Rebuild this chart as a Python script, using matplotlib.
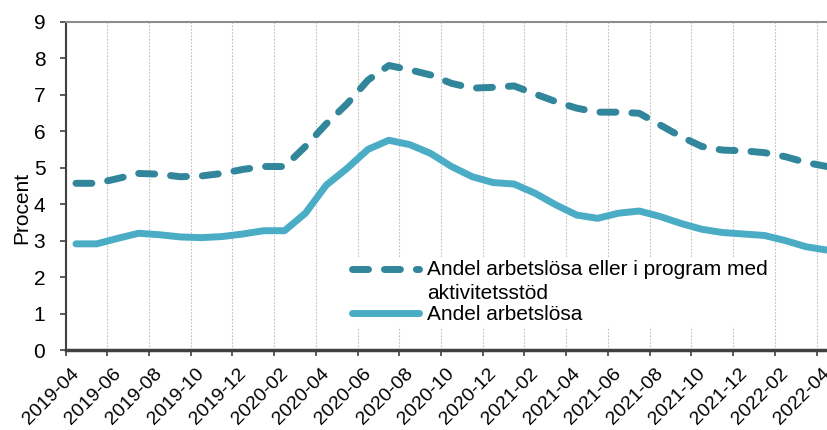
import matplotlib
matplotlib.use("Agg")
import matplotlib.pyplot as plt
import matplotlib.transforms as mtransforms
from matplotlib.legend_handler import HandlerLine2D
import numpy as np

plt.rcParams['font.family'] = ['Liberation Sans', 'DejaVu Sans']

months = ["2019-04", "2019-05", "2019-06", "2019-07", "2019-08", "2019-09", "2019-10", "2019-11",
          "2019-12", "2020-01", "2020-02", "2020-03", "2020-04", "2020-05", "2020-06", "2020-07",
          "2020-08", "2020-09", "2020-10", "2020-11", "2020-12", "2021-01", "2021-02", "2021-03",
          "2021-04", "2021-05", "2021-06", "2021-07", "2021-08", "2021-09", "2021-10", "2021-11",
          "2021-12", "2022-01", "2022-02", "2022-03", "2022-04"]

andel_program = [4.57, 4.57, 4.70, 4.84, 4.82, 4.75, 4.77, 4.84, 4.95, 5.03, 5.03, 5.58,
                 6.20, 6.75, 7.40, 7.80, 7.68, 7.54, 7.31, 7.18, 7.20, 7.24, 7.02, 6.81,
                 6.63, 6.52, 6.52, 6.49, 6.17, 5.85, 5.58, 5.48, 5.46, 5.41, 5.30, 5.14, 5.03]

andel_arbetslosa = [2.91, 2.91, 3.06, 3.20, 3.16, 3.10, 3.08, 3.11, 3.18, 3.27, 3.27, 3.75,
                    4.52, 4.98, 5.50, 5.75, 5.63, 5.39, 5.03, 4.75, 4.59, 4.55, 4.30, 3.98,
                    3.70, 3.61, 3.75, 3.81, 3.66, 3.47, 3.31, 3.22, 3.18, 3.14, 3.00, 2.83, 2.74]

tick_labels = months[::2]

label_program = "Andel arbetslösa eller i program med\naktivitetsstöd"
label_arb = "Andel arbetslösa"

W, H = 828, 430
x0, y0, y1 = 65.5, 350, 21.7
fig = plt.figure(figsize=(W/100, H/100), dpi=100)
ax = fig.add_axes([x0/W, 1-y0/H, 1-x0/W, (y0-y1)/H])

x = np.arange(len(months)) + 0.5
ln1, = ax.plot(x, andel_program, color='#31869B', lw=5, dashes=(2.3, 2.3),
               dash_capstyle='round', solid_capstyle='round', label=label_program, zorder=3)
ln2, = ax.plot(x, andel_arbetslosa, color='#4BACC6', lw=5, solid_capstyle='round',
               label=label_arb, zorder=3)

ax.set_xlim(0, 36.55)
ax.set_ylim(0, 9)
ax.set_yticks(range(0, 10))
xt = np.arange(0, len(months), 2)
ax.set_xticks(xt)
ax.tick_params(axis='y', labelsize=15, length=4.5, width=1.2, color='#404040', pad=10)
ax.tick_params(axis='x', length=4, width=1.2, color='#404040', pad=3)
ax.set_xticklabels(tick_labels, rotation=45, ha='right', va='top',
                   rotation_mode='anchor', fontsize=14)
off = mtransforms.ScaledTranslation(5/100, -5/100, fig.dpi_scale_trans)
for lab in ax.get_xticklabels():
    lab.set_transform(lab.get_transform() + off)
ax.set_ylabel("Procent", fontsize=15)
ax.yaxis.set_label_coords((31-x0)/762.5, (y0-208)/(y0-y1))

ax.grid(axis='x', color='#BFBFBF', linestyle=(0, (1.5, 1.5)), lw=0.8, zorder=0)
ax.spines['right'].set_visible(False)
ax.spines['top'].set_color('#8C8C8C')
ax.spines['top'].set_linewidth(1.5)
ax.spines['left'].set_color('#404040')
ax.spines['left'].set_linewidth(1.5)
ax.spines['bottom'].set_color('#404040')
ax.spines['bottom'].set_linewidth(2.5)


class HandlerShift(HandlerLine2D):
    def __init__(self, dy, **kw):
        super().__init__(**kw)
        self.dy = dy

    def create_artists(self, *args, **kwargs):
        arts = super().create_artists(*args, **kwargs)
        for a in arts:
            a.set_ydata(np.asarray(a.get_ydata(), dtype=float) + self.dy)
        return arts


leg = ax.legend(loc='upper left', bbox_to_anchor=((349-x0)/762.5, (y0-256.5)/(y0-y1)),
                frameon=True, fontsize=15, handlelength=3.2, handletextpad=0.4,
                borderpad=0.15, labelspacing=0.1, fancybox=False, borderaxespad=0,
                handler_map={ln1: HandlerShift(9.0)})
leg.get_texts()[0].set_linespacing(1.35)
leg.get_frame().set_edgecolor('white')
leg.get_frame().set_facecolor('white')
leg.get_frame().set_alpha(1)
leg.get_frame().set_linewidth(0)

fig.savefig("out.png", dpi=100)
